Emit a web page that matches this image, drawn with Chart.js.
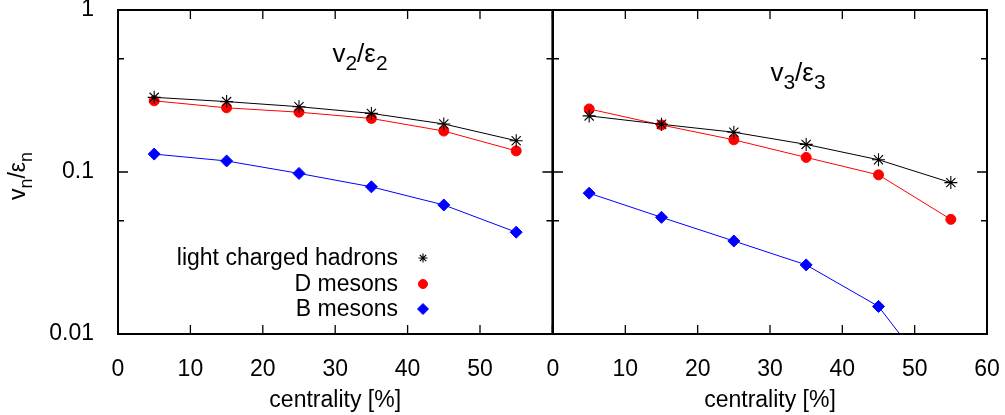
<!DOCTYPE html>
<html>
<head>
<meta charset="utf-8">
<script src="https://cdn.jsdelivr.net/npm/chart.js@4.4.1/dist/chart.umd.min.js"></script>
<style>
  body { margin: 0; background: #fff; }
  #wrap { position: relative; width: 1005px; height: 415px; overflow: hidden; }
  canvas { position: absolute; top: 0; }
</style>
</head>
<body>
<div id="wrap">
  <canvas id="chart-v2" width="560" height="415" style="left:0;width:560px;height:415px"></canvas>
  <canvas id="chart-v3" width="465" height="415" style="left:540px;width:465px;height:415px"></canvas>
</div>
<script>
// centrality bins (bin centres, %)
const centrality = [5, 15, 25, 35, 45, 55]

// v2/eps2
const v2Hadrons = [0.289, 0.272, 0.253, 0.230, 0.198, 0.156]
const v2D = [0.275, 0.249, 0.234, 0.214, 0.179, 0.135]
const v2B = [0.129, 0.117, 0.098, 0.081, 0.0626, 0.0425]

// v3/eps3
const v3Hadrons = [0.222, 0.197, 0.176, 0.148, 0.119, 0.086]
const v3D = [0.245, 0.195, 0.158, 0.123, 0.096, 0.051]
const v3B = [0.074, 0.0525, 0.0375, 0.0267, 0.0148, 0.0039]

const seriesNames = ["light charged hadrons", "D mesons", "B mesons"]

const xTicks = [0, 10, 20, 30, 40, 50, 60]
const yTicks = [0.01, 0.1, 1]
const yMinorTicks = [0.05, 0.5]

const FAMILY = "'Liberation Sans', Arial, Helvetica, sans-serif"
const FS = 23

Chart.defaults.font.family = FAMILY
Chart.defaults.font.size = FS
Chart.defaults.color = "#000"

function series(label, values, color, style, radius, legendRadius) {
    return {
        label: label,
        data: centrality.map((c, i) => ({ x: c, y: values[i] })),
        borderColor: color,
        backgroundColor: color,
        borderWidth: 1,
        pointStyle: style,
        pointRadius: radius,
        pointHoverRadius: radius,
        pointBorderWidth: style === "star" ? 1.1 : 1,
        pointBackgroundColor: color,
        pointBorderColor: color,
        legendRadius: legendRadius,
        tension: 0
    }
}

// text with subscripts: parts = [[text, isSub], ...]
function drawSubText(ctx, parts, x, y, size) {
    const sub = Math.round(size * 0.8)
    let w = 0
    parts.forEach(([t, s]) => {
        ctx.font = (s ? sub : size) + "px " + FAMILY
        w += ctx.measureText(t).width
    })
    let cx = x - w / 2
    ctx.textAlign = "left"
    ctx.textBaseline = "alphabetic"
    parts.forEach(([t, s]) => {
        ctx.font = (s ? sub : size) + "px " + FAMILY
        ctx.fillText(t, cx, s ? y + size * 0.3 : y)
        cx += ctx.measureText(t).width
    })
}

// border box with inward ticks on all four sides
const frameTicks = {
    id: "frameTicks",
    afterDraw(chart) {
        const { ctx, chartArea: a, scales: { x, y } } = chart
        ctx.save()
        ctx.strokeStyle = "#000"
        ctx.lineWidth = 1.3
        ctx.beginPath()
        xTicks.forEach(v => {
            const px = x.getPixelForValue(v)
            ctx.moveTo(px, a.bottom); ctx.lineTo(px, a.bottom - 9)
            ctx.moveTo(px, a.top); ctx.lineTo(px, a.top + 9)
        })
        yTicks.forEach(v => {
            const py = y.getPixelForValue(v)
            ctx.moveTo(a.left, py); ctx.lineTo(a.left + 10, py)
            ctx.moveTo(a.right, py); ctx.lineTo(a.right - 10, py)
        })
        yMinorTicks.forEach(v => {
            const py = y.getPixelForValue(v)
            ctx.moveTo(a.left, py); ctx.lineTo(a.left + 6, py)
            ctx.moveTo(a.right, py); ctx.lineTo(a.right - 6, py)
        })
        ctx.stroke()
        ctx.lineWidth = 2
        ctx.strokeRect(a.left, a.top, a.right - a.left, a.bottom - a.top)

        const opts = chart.options.plugins.panelText
        ctx.fillStyle = "#000"
        drawSubText(ctx, opts.title, a.left + opts.titleX, a.top + opts.titleY, 26)

        if (opts.yTitle) {
            ctx.save()
            ctx.translate(25, (a.top + a.bottom) / 2 + 4)
            ctx.rotate(-Math.PI / 2)
            drawSubText(ctx, opts.yTitle, 0, 0, FS)
            ctx.restore()
        }

        if (opts.legend) {
            const rows = [258, 284, 309]
            chart.data.datasets.forEach((ds, i) => {
                ctx.font = FS + "px " + FAMILY
                ctx.textAlign = "right"
                ctx.textBaseline = "middle"
                ctx.fillStyle = "#000"
                ctx.fillText(ds.label, 398, rows[i] + 1)
                ctx.fillStyle = ds.pointBackgroundColor
                ctx.strokeStyle = ds.pointBorderColor
                ctx.lineWidth = ds.pointBorderWidth
                Chart.helpers.drawPoint(ctx, {
                    pointStyle: ds.pointStyle,
                    radius: ds.legendRadius,
                    borderWidth: ds.pointBorderWidth,
                    rotation: 0
                }, 423, rows[i])
            })
        }
        ctx.restore()
    }
}

function makeChart(id, hadrons, dMes, bMes, pad, showY, labelLast, panelText) {
    return new Chart(document.getElementById(id), {
        type: "line",
        data: {
            datasets: [
                series(seriesNames[0], hadrons, "#000000", "star", 6.5, 4.5),
                series(seriesNames[1], dMes, "#ff0000", "circle", 5, 4.5),
                series(seriesNames[2], bMes, "#0000ff", "rectRot", 6, 5.5)
            ]
        },
        options: {
            responsive: false,
            animation: false,
            layout: { padding: pad },
            plugins: {
                legend: { display: false },
                tooltip: { enabled: false },
                panelText: panelText
            },
            scales: {
                x: {
                    type: "linear",
                    min: 0,
                    max: 60,
                    afterBuildTicks: s => { s.ticks = xTicks.map(v => ({ value: v })) },
                    afterFit: s => { s.height = 81; s.paddingLeft = 0; s.paddingRight = 0 },
                    grid: { display: false },
                    border: { display: false },
                    ticks: {
                        padding: 14,
                        maxRotation: 0,
                        autoSkip: false,
                        callback: v => (v === 60 && !labelLast) ? "" : String(v)
                    },
                    title: {
                        display: true,
                        text: "centrality [%]",
                        padding: { top: 0, bottom: 1 }
                    }
                },
                y: {
                    type: "logarithmic",
                    display: showY,
                    min: 0.01,
                    max: 1,
                    afterBuildTicks: s => { s.ticks = yTicks.map(v => ({ value: v })) },
                    afterFit: s => { s.width = showY ? 118 : 0; s.paddingTop = 0; s.paddingBottom = 0 },
                    grid: { display: false },
                    border: { display: false },
                    ticks: {
                        padding: 16,
                        autoSkip: false,
                        callback: v => String(v)
                    }
                }
            }
        },
        plugins: [frameTicks]
    })
}

makeChart("chart-v2", v2Hadrons, v2D, v2B,
    { left: 0, top: 10, right: 7, bottom: 0 }, true, false, {
        title: [["v", false], ["2", true], ["/", false], ["\u03b5", false], ["2", true]],
        titleX: 242,
        titleY: 52,
        yTitle: [["v", false], ["n", true], ["/", false], ["\u03b5", false], ["n", true]],
        legend: true
    })

makeChart("chart-v3", v3Hadrons, v3D, v3B,
    { left: 13, top: 10, right: 18, bottom: 0 }, false, true, {
        title: [["v", false], ["3", true], ["/", false], ["\u03b5", false], ["3", true]],
        titleX: 245,
        titleY: 71,
        yTitle: null,
        legend: false
    })
</script>
</body>
</html>
